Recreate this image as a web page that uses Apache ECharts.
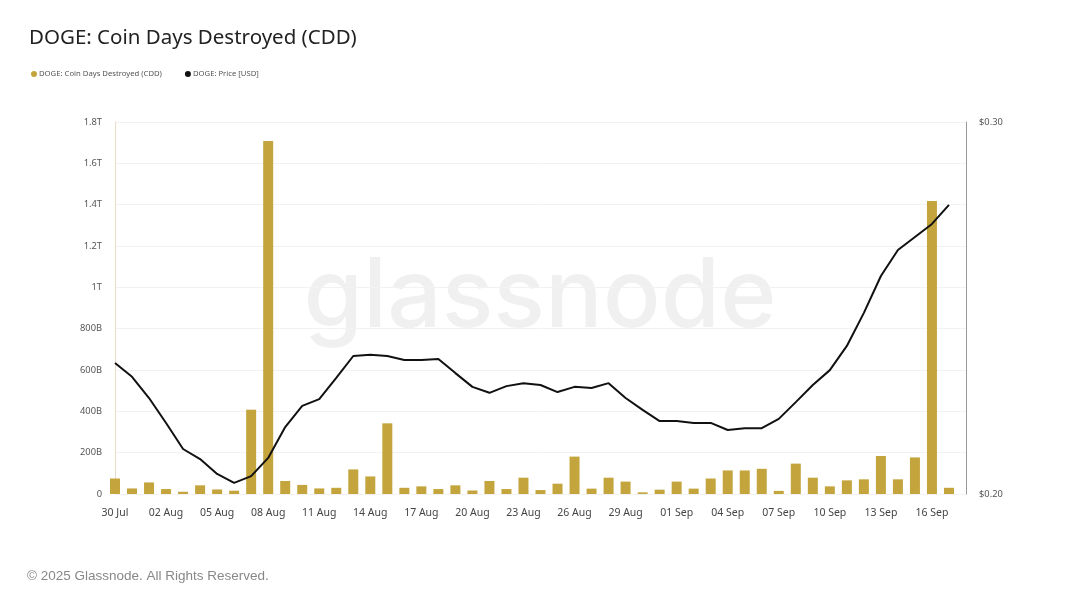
<!DOCTYPE html>
<html>
<head>
<meta charset="utf-8">
<script src="https://cdn.jsdelivr.net/npm/echarts@6/dist/echarts.min.js"></script>
<style>
html,body{margin:0;padding:0;background:#fff;}
#c{width:1080px;height:608px;}
</style>
</head>
<body>
<div id="c"></div>
<script>
const categories = ['30 Jul','31 Jul','01 Aug','02 Aug','03 Aug','04 Aug','05 Aug','06 Aug','07 Aug','08 Aug','09 Aug','10 Aug','11 Aug','12 Aug','13 Aug','14 Aug','15 Aug','16 Aug','17 Aug','18 Aug','19 Aug','20 Aug','21 Aug','22 Aug','23 Aug','24 Aug','25 Aug','26 Aug','27 Aug','28 Aug','29 Aug','30 Aug','31 Aug','01 Sep','02 Sep','03 Sep','04 Sep','05 Sep','06 Sep','07 Sep','08 Sep','09 Sep','10 Sep','11 Sep','12 Sep','13 Sep','14 Sep','15 Sep','16 Sep','17 Sep'];
// CDD in billions
const cddBillions = [75,27,56,24,11,42,22,16,408,1708,63,44,27,30,119,85,342,30,37,24,42,17,63,24,79,19,50,181,26,79,60,8,21,60,26,75,114,114,122,15,147,79,37,66,71,184,71,177,1418,30];
const priceUsd = [0.2352,0.2315,0.2258,0.2191,0.2121,0.2094,0.2054,0.2030,0.2048,0.2097,0.2180,0.2237,0.2255,0.2312,0.2371,0.2374,0.2371,0.2360,0.2360,0.2363,0.2325,0.2288,0.2272,0.2290,0.2298,0.2293,0.2274,0.2288,0.2285,0.2298,0.2258,0.2226,0.2196,0.2196,0.2191,0.2191,0.2172,0.2177,0.2177,0.2202,0.2247,0.2293,0.2333,0.2398,0.2487,0.2586,0.2656,0.2691,0.2726,0.2777];
const leftTicks = {0:'0',200:'200B',400:'400B',600:'600B',800:'800B',1000:'1T',1200:'1.2T',1400:'1.4T',1600:'1.6T',1800:'1.8T'};

const chart = echarts.init(document.getElementById('c'));
const font = 'Noto Sans';
chart.setOption({
  backgroundColor:'#fff',
  animation:false,
  title:{text:'DOGE: Coin Days Destroyed (CDD)',left:24,top:23,textStyle:{fontFamily:font,fontSize:20.5,fontWeight:'normal',color:'#222'}},
  legend:{left:26,top:65,icon:'circle',itemWidth:6,itemHeight:6,itemGap:23,
    textStyle:{fontFamily:font,fontSize:7.7,color:'#555',padding:[0,0,0,-3]},
    data:['DOGE: Coin Days Destroyed (CDD)','DOGE: Price [USD]']},
  graphic:[
    {type:'text',left:'center',top:250,z:-1,silent:true,style:{text:'glassnode',fontFamily:'Inter',fontSize:96,fontWeight:500,fill:'rgba(0,0,0,0.06)'}},
    {type:'text',left:27,top:569,style:{text:'© 2025 Glassnode. All Rights Reserved.',fontFamily:'Liberation Sans',fontSize:13.5,fill:'#888'}}
  ],
  grid:{left:115,right:114,top:122,bottom:114},
  xAxis:{type:'value',min:0,max:50,interval:3,
    axisLine:{show:false},axisTick:{show:false},splitLine:{show:false},
    axisLabel:{fontFamily:font,fontSize:10.5,color:'#444',margin:14,
      formatter:v=> (v%3===0 && v<categories.length)?categories[v]:''}},
  yAxis:[
    {type:'value',min:0,max:1800,interval:200,position:'left',
      axisLine:{show:true,lineStyle:{color:'#e6dfc6'}},axisTick:{show:false},
      splitLine:{lineStyle:{color:'#f2f2f2'}},
      axisLabel:{fontFamily:font,fontSize:9.3,color:'#555',margin:13,formatter:v=>leftTicks[v]}},
    {type:'value',min:0.2,max:0.3,interval:0.1,position:'right',
      axisLine:{show:true,lineStyle:{color:'#999'}},axisTick:{show:false},splitLine:{show:false},
      axisLabel:{fontFamily:font,fontSize:9.3,color:'#555',margin:13,formatter:v=>'$'+v.toFixed(2)}}
  ],
  series:[
    {name:'DOGE: Coin Days Destroyed (CDD)',type:'bar',yAxisIndex:0,barWidth:10,clip:true,
      itemStyle:{color:'#c4a53d'},data:cddBillions.map((v,i)=>[i,v])},
    {name:'DOGE: Price [USD]',type:'line',yAxisIndex:1,symbol:'none',
      lineStyle:{color:'#111',width:2},itemStyle:{color:'#111'},data:priceUsd.map((v,i)=>[i,v])}
  ]
});
</script>
</body>
</html>
